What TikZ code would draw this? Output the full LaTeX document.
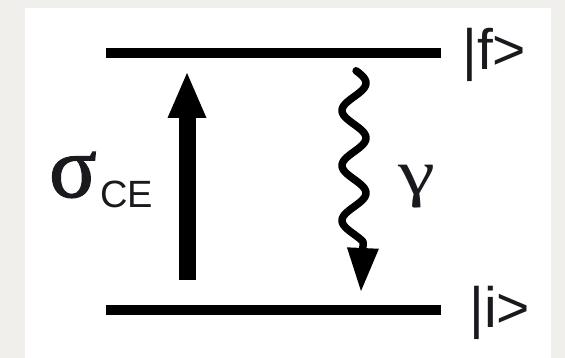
\documentclass[tikz,border=0pt]{standalone}
\usepackage{fontspec}
\setmainfont{Liberation Sans}
\newfontfamily\greekfont{Liberation Serif}
\newfontfamily\sigmafont[FakeBold=1.6]{Liberation Serif}
\usetikzlibrary{arrows.meta}
\definecolor{mypaper}{RGB}{240,239,236}
\definecolor{mydark}{RGB}{25,25,30}
\tikzset{
  level/.style={line width=10pt, color=black},
  pump/.style={line width=17pt, color=black, -{Triangle[length=45pt, width=39pt, line width=0pt]}},
  photon/.style={line width=7.5pt, color=black, line cap=round, line join=round,
    -{Triangle[length=43pt, width=32pt, line width=0pt]}},
  ket/.style={inner sep=0pt, anchor=base west, text=mydark, font=\fontsize{57}{60}\selectfont},
  greek/.style={inner sep=0pt, anchor=base west, text=mydark}
}

\begin{document}
\begin{tikzpicture}[x=1pt, y=-1pt]
\useasboundingbox (0,0) rectangle (565,358);
% paper and white card
\fill[mypaper] (0,0) rectangle (565,358);
\fill[white] (25,8) rectangle (551,358);

% the two levels
\coordinate (fL) at (106,53);
\coordinate (fR) at (441,53);
\coordinate (iL) at (106,310);
\coordinate (iR) at (441,310);
\draw[level] (fL) -- (fR);
\draw[level] (iL) -- (iR);

\node[ket] (fket) at (462,70)  {|f>};
\node[ket] (iket) at (469,327) {|i>};

% excitation arrow
\coordinate (pumpfrom) at (187,280);
\coordinate (pumpto)   at (187,73);
\draw[pump] (pumpfrom) -- (pumpto);
\node[greek, font=\sigmafont\fontsize{88}{90}\selectfont] (sigma) at (49,197) {σ};
\node[greek, font=\fontsize{38}{40}\selectfont] (ce) at (100,208) {CE};

% emitted photon
\coordinate (emitfrom) at (354,83);
\coordinate (emitto)   at (361,291);
\draw[photon, shift={(emitfrom)}]
  plot[domain=-80:1040, samples=140] ({12*cos(\x)}, {\x/360*55}) -- (emitto);
\node[greek, font=\greekfont\fontsize{64}{66}\selectfont] (gamma) at (398,195) {\scalebox{1.3}[1]{γ}};
\end{tikzpicture}
\end{document}
